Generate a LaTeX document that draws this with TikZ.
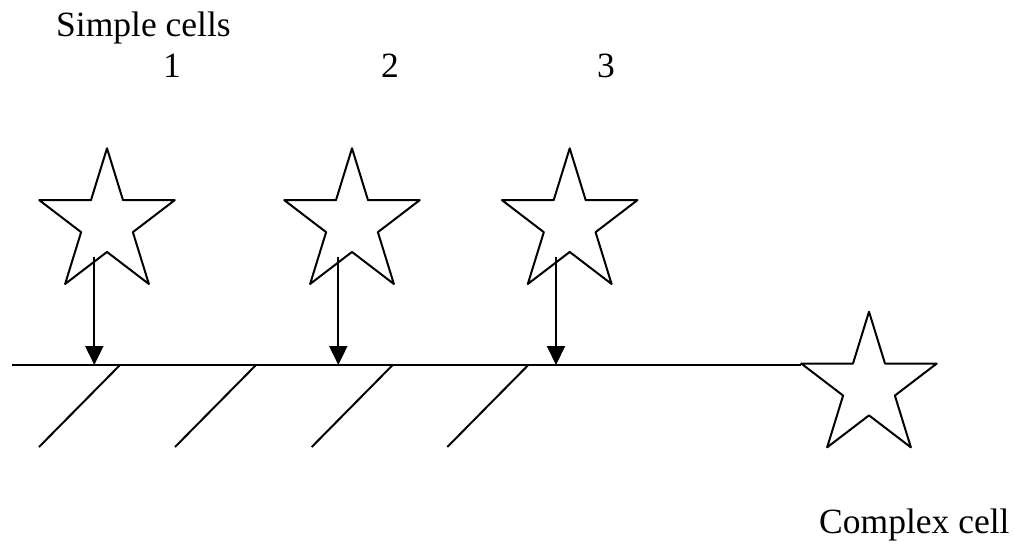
\documentclass[tikz,border=0pt]{standalone}
\usepackage{fontspec}
\setmainfont{Liberation Serif}
\usetikzlibrary{shapes.geometric,arrows.meta,calc}
\begin{document}
\begin{tikzpicture}[x=1pt,y=-1pt,
  cell/.style={star,star points=5,star point ratio=2.618,minimum size=150pt,
    inner sep=0pt,outer sep=0pt,draw=black,line width=2pt,line join=round,transform shape},
  lbl/.style={inner sep=0pt,font=\fontsize{35.5}{42}\selectfont},
  wire/.style={line width=2pt},
  feed/.style={line width=2pt,-{Triangle[width=18pt,length=19pt]}}]
\useasboundingbox (0,0) rectangle (1015,544);
% labels
\node[lbl,anchor=base west] (title) at (56,36) {Simple cells};
\node[lbl,anchor=base] (n1) at (172,77) {1};
\node[lbl,anchor=base] (n2) at (390,77) {2};
\node[lbl,anchor=base] (n3) at (606,77) {3};
\node[lbl,anchor=base west] (ctitle) at (819,533) {Complex cell};
% stars
\begin{scope}[shift={(107,223.3)},xscale=0.95]\node[cell] (s1) at (0,0) {};\end{scope}
\begin{scope}[shift={(352,223.3)},xscale=0.95]\node[cell] (s2) at (0,0) {};\end{scope}
\begin{scope}[shift={(569.7,223.3)},xscale=0.95]\node[cell] (s3) at (0,0) {};\end{scope}
\begin{scope}[shift={(869,386.7)},xscale=0.95]\node[cell] (c) at (0,0) {};\end{scope}
% base line
\coordinate (L) at (11.7,365);
\draw[wire] (L) -- (L -| c.outer point 2);
% arrow targets on the line
\coordinate (t1) at (94.3,365);
\coordinate (t2) at (338.3,365);
\coordinate (t3) at (556,365);
\draw[feed] (t1 |- s1.center) ++(0,33.4) -- (t1);
\draw[feed] (t2 |- s2.center) ++(0,33.4) -- (t2);
\draw[feed] (t3 |- s3.center) ++(0,33.4) -- (t3);
% diagonal strokes below the line
\draw[wire] (120,365) -- ++(-81,82);
\draw[wire] (256,365) -- ++(-81,82);
\draw[wire] (392.7,365) -- ++(-81,82);
\draw[wire] (528.3,365) -- ++(-81,82);
\end{tikzpicture}
\end{document}
